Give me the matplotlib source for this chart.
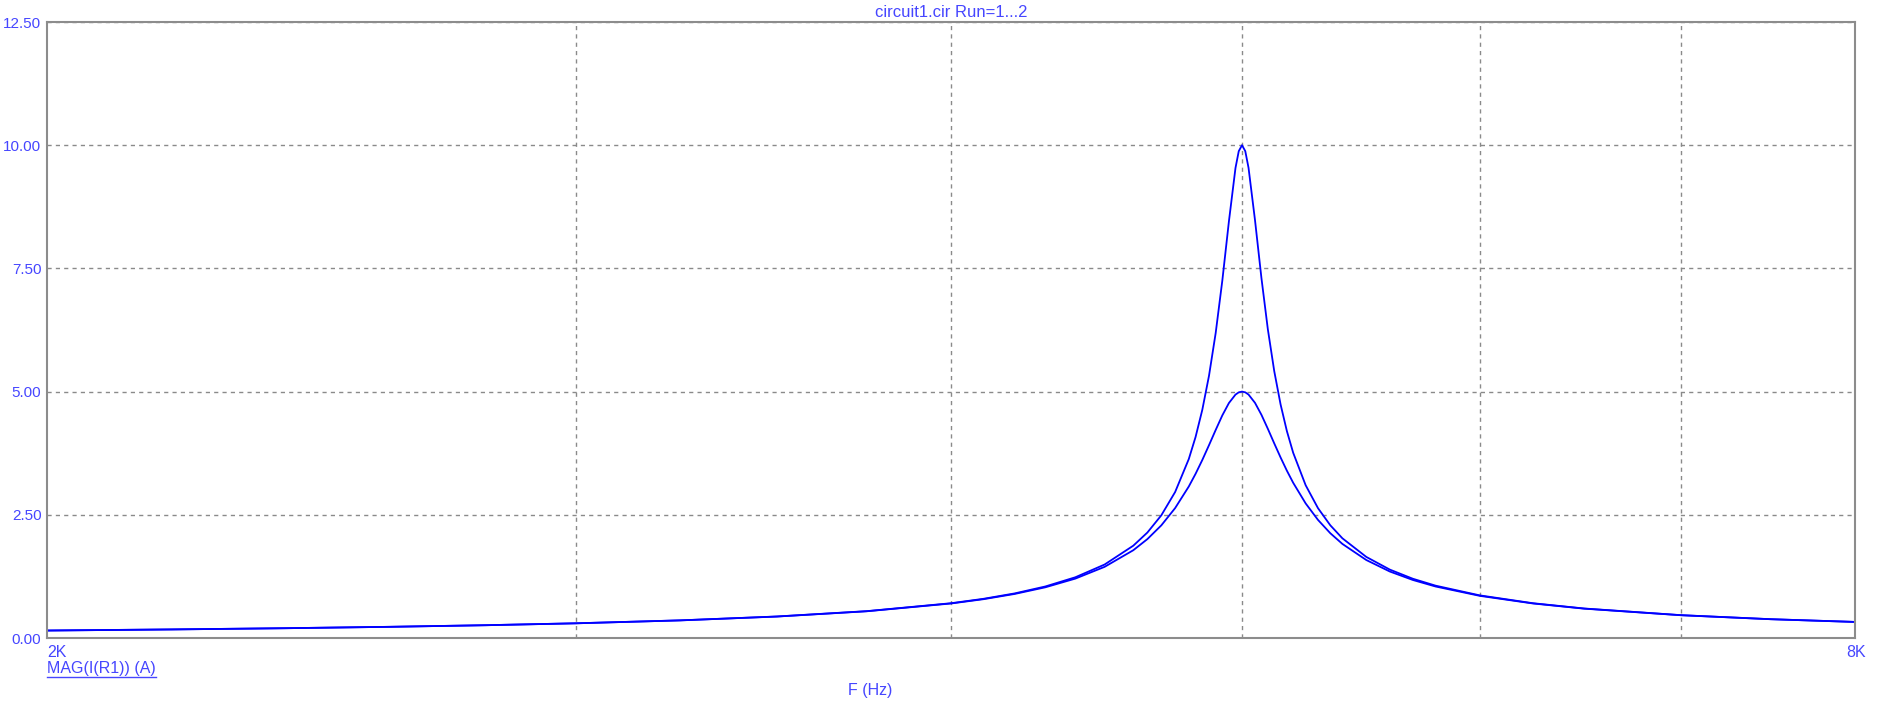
import numpy as np
import matplotlib.pyplot as plt
from matplotlib.ticker import NullLocator

# Frequency points (Hz)
freq = [2000, 2200, 2400, 2600, 2800, 3000, 3250, 3500, 3750, 4000, 4100,
        4200, 4300, 4400, 4500, 4600, 4650, 4700, 4750, 4800, 4825, 4850,
        4875, 4900, 4925, 4950, 4975, 4987.5, 5000, 5012.5, 5025, 5050,
        5075, 5100, 5125, 5150, 5175, 5200, 5250, 5300, 5350, 5400, 5500,
        5600, 5700, 5800, 6000, 6250, 6500, 7000, 7500, 8000]

# Run 1: MAG(I(R1)) with the lower, broader peak (A)
run1 = [0.1515, 0.1736, 0.1984, 0.2266, 0.2593, 0.2979, 0.3574, 0.4352,
        0.5424, 0.7004, 0.7868, 0.8937, 1.0287, 1.205, 1.444, 1.781, 2.007,
        2.286, 2.636, 3.074, 3.331, 3.612, 3.913, 4.221, 4.517, 4.768, 4.939,
        4.985, 5.0, 4.985, 4.940, 4.772, 4.529, 4.245, 3.950, 3.664, 3.395,
        3.150, 2.731, 2.396, 2.127, 1.909, 1.582, 1.349, 1.177, 1.045,
        0.8553, 0.7004, 0.5954, 0.4622, 0.3809, 0.3258]

# Run 2: MAG(I(R1)) with the sharp peak (A)
run2 = [0.1516, 0.1737, 0.1985, 0.2268, 0.2596, 0.2983, 0.3580, 0.4365,
        0.5449, 0.7056, 0.7942, 0.9046, 1.0455, 1.232, 1.491, 1.873, 2.140,
        2.490, 2.962, 3.631, 4.078, 4.630, 5.322, 6.188, 7.251, 8.455, 9.538,
        9.879, 10.0, 9.879, 9.542, 8.479, 7.303, 6.264, 5.417, 4.740, 4.198,
        3.759, 3.100, 2.634, 2.288, 2.023, 1.645, 1.388, 1.202, 1.062,
        0.8648, 0.7056, 0.5986, 0.4637, 0.3817, 0.3263]

x_grid = [3000, 4000, 5000, 6000, 7000]
y_ticks = [0, 2.5, 5.0, 7.5, 10.0, 12.5]

text_color = '#4646ff'
line_color = '#0000ff'
frame_color = '#8c8c8c'

plt.rcParams['font.family'] = ['Liberation Sans', 'DejaVu Sans']

W, H = 1887, 701
fig = plt.figure(figsize=(W / 100, H / 100), dpi=100)
ax = fig.add_axes([47 / W, (H - 638) / H, (1855 - 47) / W, (638 - 22) / H])

ax.plot(freq, run1, color=line_color, linewidth=1.3)
ax.plot(freq, run2, color=line_color, linewidth=1.3)

ax.set_xscale('log')
ax.set_xlim(2000, 8000)
ax.set_ylim(0, 12.5)
ax.set_xticks(x_grid)
ax.set_xticklabels([])
ax.xaxis.set_minor_locator(NullLocator())
ax.set_yticks(y_ticks)
ax.set_yticklabels([f'{v:.2f}' for v in y_ticks], color=text_color, fontsize=11)
ax.tick_params(axis='both', length=0, pad=4)
ax.grid(True, color='#8a8a8a', linestyle=(0, (3, 3)), linewidth=1.0)

for s in ax.spines.values():
    s.set_color(frame_color)
    s.set_linewidth(1.5)

ax.text(0.5, 1.003, 'circuit1.cir Run=1...2', transform=ax.transAxes,
        ha='center', va='bottom', color=text_color, fontsize=12)
ax.text(0, -0.012, '2K', transform=ax.transAxes, ha='left', va='top',
        color=text_color, fontsize=11.5)
ax.text(1.006, -0.012, '8K', transform=ax.transAxes, ha='right', va='top',
        color=text_color, fontsize=11.5)
lab = fig.text(47 / W, 1 - 669 / H, 'MAG(I(R1)) (A)', ha='left', va='center',
               color=text_color, fontsize=11.5)
fig.canvas.draw()
bb = lab.get_window_extent()
fig.add_artist(plt.Line2D([bb.x0 / W, bb.x1 / W], [1 - 677 / H, 1 - 677 / H],
                          color=text_color, linewidth=1.0))
fig.text(870 / W, 1 - 690 / H, 'F (Hz)', ha='center', va='center',
         color=text_color, fontsize=11.5)

fig.savefig('out.png', dpi=100)
